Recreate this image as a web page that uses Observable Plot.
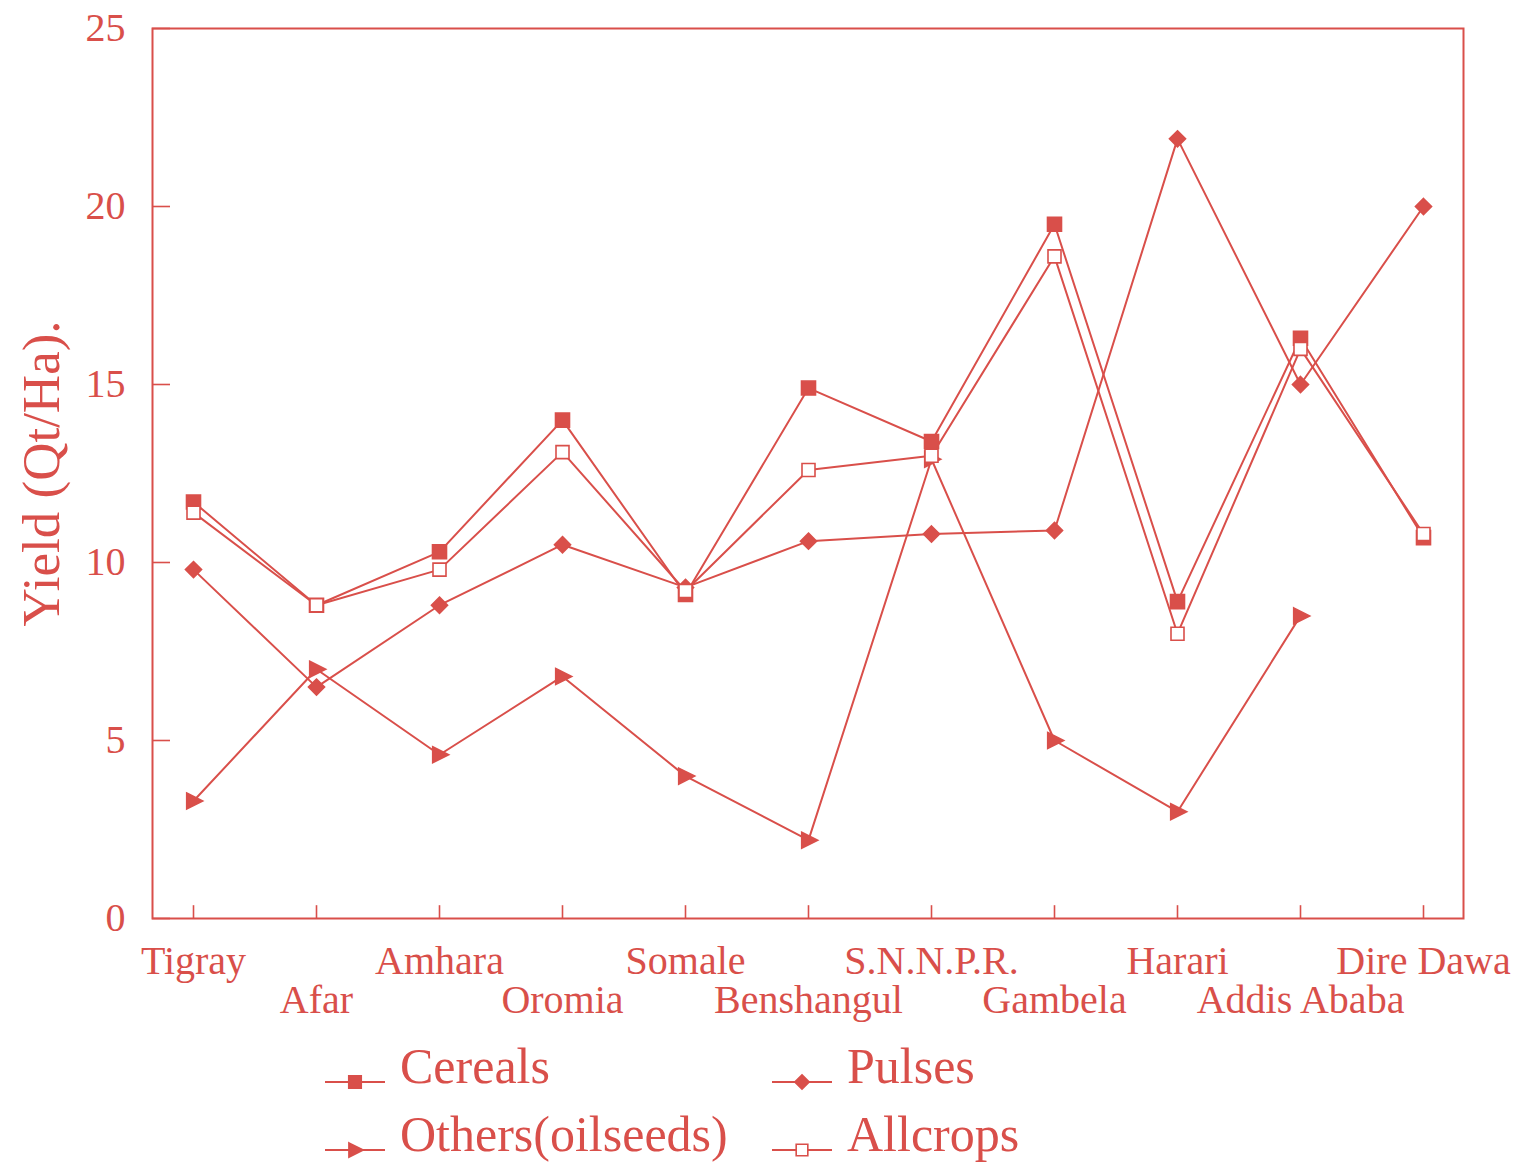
<!DOCTYPE html>
<html><head><meta charset="utf-8">
<script src="https://cdn.jsdelivr.net/npm/d3@7"></script>
<script src="https://cdn.jsdelivr.net/npm/@observablehq/plot@0.6"></script>
<style>
body{margin:0;background:#fff;}
#chart{position:relative;width:1526px;height:1165px;background:#fff;}
#legend{position:absolute;left:0;top:1030px;}
</style></head><body><div id="chart"></div>
<script>
// ---- data ----
const regions = ["Tigray","Afar","Amhara","Oromia","Somale","Benshangul","S.N.N.P.R.","Gambela","Harari","Addis Ababa","Dire Dawa"];
const cereals  = [11.7, 8.8, 10.3, 14.0, 9.1, 14.9, 13.4, 19.5, 8.9, 16.3, 10.7];
const pulses   = [9.8, 6.5, 8.8, 10.5, 9.3, 10.6, 10.8, 10.9, 21.9, 15.0, 20.0];
const others   = [3.3, 7.0, 4.6, 6.8, 4.0, 2.2, 12.9, 5.0, 3.0, 8.5, null];
const allcrops = [11.4, 8.8, 9.8, 13.1, 9.2, 12.6, 13.0, 18.6, 8.0, 16.0, 10.8];
const yTicks = [0, 5, 10, 15, 20, 25];
const seriesNames = ["Cereals", "Pulses", "Others(oilseeds)", "Allcrops"];
const yLabel = "Yield (Qt/Ha).";

// ---- style ----
const RED = "#d94f4a";
const FONT = "Liberation Serif, Times New Roman, serif";

const symSquare = {draw(ctx, size){const r = Math.sqrt(size/Math.PI); ctx.moveTo(-r,-r); ctx.lineTo(r,-r); ctx.lineTo(r,r); ctx.lineTo(-r,r); ctx.closePath();}};
const symDiamond = {draw(ctx, size){const r = Math.sqrt(size/Math.PI)*1.15; ctx.moveTo(0,-r); ctx.lineTo(r,0); ctx.lineTo(0,r); ctx.lineTo(-r,0); ctx.closePath();}};
const symTriangle = {draw(ctx, size){const r = Math.sqrt(size/Math.PI); ctx.moveTo(-r*0.85,-r); ctx.lineTo(r*1.15,0); ctx.lineTo(-r*0.85,r); ctx.closePath();}};

const series = [
  {name: seriesNames[0], values: cereals,  symbol: symSquare,   fill: RED,    r: 7},
  {name: seriesNames[1], values: pulses,   symbol: symDiamond,  fill: RED,    r: 7},
  {name: seriesNames[2], values: others,   symbol: symTriangle, fill: RED,    r: 8},
  {name: seriesNames[3], values: allcrops, symbol: symSquare,   fill: "white", r: 6.5}
];
const rows = s => regions.map((region, i) => ({region, value: s.values[i]})).filter(d => d.value != null);

const W = 1526, H = 1030;
const plot = Plot.plot({
  width: W, height: H,
  marginLeft: 152, marginRight: 63, marginTop: 28, marginBottom: H - 918,
  style: {color: RED, fontFamily: FONT, background: "white"},
  x: {type: "point", domain: regions, padding: 0.32},
  y: {domain: [0, 25]},
  marks: [
    Plot.frame({stroke: RED, strokeWidth: 2}),
    Plot.ruleX(regions, {x: d => d, y1: 0, y2: 0.36, stroke: RED, strokeWidth: 1.6}),
    Plot.axisY(yTicks, {tickSize: 18, dx: 18, tickFormat: () => "", label: null, strokeWidth: 1.6}),
    Plot.axisY(yTicks, {tickSize: 0, tickPadding: 27, fontSize: 40, label: null}),
    Plot.axisX(regions.filter((d, i) => i % 2 === 0), {tickSize: 0, tickPadding: 27, fontSize: 40, label: null}),
    Plot.axisX(regions.filter((d, i) => i % 2 === 1), {tickSize: 0, tickPadding: 66, fontSize: 40, label: null}),
    Plot.text([yLabel], {frameAnchor: "left", textAnchor: "middle", rotate: -90, dx: -110, fontSize: 53, fill: RED}),
    ...series.map(s => Plot.line(rows(s), {x: "region", y: "value", stroke: RED, strokeWidth: 2})),
    ...series.map(s => Plot.dot(rows(s), {x: "region", y: "value", symbol: s.symbol, r: s.r, fill: s.fill, stroke: RED, strokeWidth: 1.6}))
  ]
});
const chart = document.getElementById("chart");
chart.appendChild(plot);

// ---- legend below the chart ----
const leg = d3.select(chart).append("svg").attr("id", "legend")
  .attr("width", W).attr("height", 135)
  .style("font-family", FONT);
const items = [
  {s: series[0], x: 325, y: 52},
  {s: series[1], x: 772, y: 52},
  {s: series[2], x: 325, y: 120},
  {s: series[3], x: 772, y: 120}
];
for (const it of items) {
  const g = leg.append("g").attr("transform", `translate(${it.x},${it.y})`);
  g.append("line").attr("x1", 0).attr("x2", 60).attr("y1", 0).attr("y2", 0).attr("stroke", RED).attr("stroke-width", 2);
  const p = d3.path();
  it.s.symbol.draw(p, Math.PI * it.s.r * it.s.r * 0.8);
  g.append("path").attr("d", p.toString()).attr("transform", "translate(30,0)")
    .attr("fill", it.s.fill).attr("stroke", RED).attr("stroke-width", 1.6);
  g.append("text").attr("x", 75).attr("y", 1).attr("fill", RED).attr("font-size", 50).text(it.s.name);
}
</script></body></html>
